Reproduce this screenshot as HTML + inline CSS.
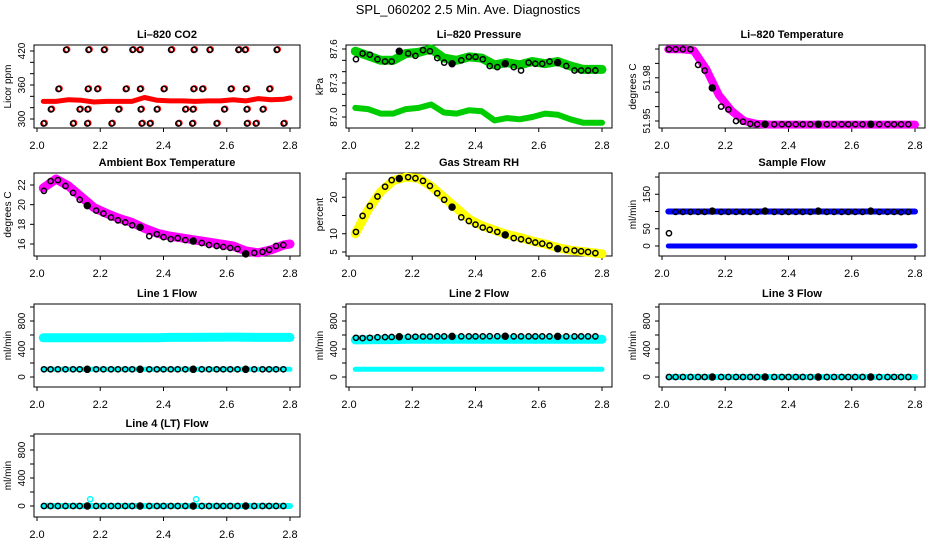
<!DOCTYPE html>
<html><head><meta charset="utf-8"><style>
html,body{margin:0;padding:0;background:#fff;}
svg{display:block;font-family:"Liberation Sans",sans-serif;}
</style></head><body>
<svg id="chart" width="936" height="540" viewBox="0 0 936 540">
<text x="468" y="14" text-anchor="middle" font-size="13">SPL_060202  2.5 Min. Ave. Diagnostics</text>
</svg>
<script>
// ---- shared data ----
const times = [2.022,2.043,2.066,2.090,2.114,2.135,2.159,2.187,2.210,2.234,2.256,2.279,2.301,2.326,2.355,2.379,2.400,2.423,2.445,2.469,2.494,2.521,2.544,2.568,2.589,2.611,2.634,2.660,2.687,2.713,2.734,2.756,2.779];
const filledIdx = [6,13,20,27];
const bandT = [2.02,2.06,2.10,2.14,2.18,2.22,2.26,2.30,2.34,2.38,2.42,2.46,2.50,2.54,2.58,2.62,2.66,2.70,2.74,2.78,2.80];
const xTicks = [2.0,2.2,2.4,2.6,2.8];
const xTickLabels = ["2.0","2.2","2.4","2.6","2.8"];
// CO2
const co2T = [2.092,2.163,2.212,2.302,2.325,2.424,2.496,2.546,2.637,2.658,2.758,
  2.068,2.161,2.191,2.281,2.326,2.401,2.495,2.523,2.613,2.661,2.735,
  2.044,2.135,2.160,2.258,2.328,2.379,2.469,2.493,2.592,2.663,2.714,
  2.021,2.114,2.159,2.236,2.331,2.357,2.447,2.491,2.568,2.664,2.692,2.780];
const co2V = [422,422,422,422,422,422,422,422,422,422,422,
  353,353,353,353,353,353,353,353,353,353,353,
  317,317,317,317,317,317,317,317,317,317,317,
  292,292,292,292,292,292,292,292,292,292,292,292];
const co2Band = [331,331,334,333,330,331,331,331,338,333,332,332,331,332,332,334,332,336,334,335,337];
// Pressure
const presUpper = [87.58,87.54,87.50,87.50,87.56,87.57,87.60,87.52,87.50,87.53,87.52,87.46,87.48,87.46,87.49,87.47,87.49,87.45,87.42,87.42,87.42];
const presLower = [87.08,87.07,87.03,87.03,87.07,87.08,87.11,87.04,87.03,87.06,87.05,86.97,86.99,86.98,87.00,87.03,87.02,86.98,86.95,86.95,86.95];
const presCirc = [87.51,87.56,87.55,87.51,87.49,87.49,87.58,87.56,87.54,87.59,87.58,87.52,87.48,87.47,87.50,87.53,87.53,87.51,87.45,87.44,87.47,87.44,87.41,87.48,87.47,87.47,87.49,87.48,87.45,87.41,87.41,87.41,87.41];
// Li-820 temperature
const tempBand = [51.9998,51.9998,51.999,51.986,51.968,51.957,51.950,51.948,51.9475,51.9475,51.9475,51.9475,51.9475,51.9475,51.9475,51.9475,51.9475,51.9475,51.9475,51.9475,51.9475];
const tempCirc = [51.9998,51.9998,51.9998,51.9998,51.989,51.985,51.973,51.960,51.958,51.950,51.9495,51.948,51.9477,51.9477,51.9477,51.9477,51.9477,51.9477,51.9477,51.9477,51.9477,51.9477,51.9477,51.9477,51.9477,51.9477,51.9477,51.9477,51.9477,51.9477,51.9477,51.9477,51.9477];
// Ambient box temperature
const boxBand = [21.7,22.6,21.9,20.8,19.7,19.1,18.6,18.2,17.6,17.1,16.8,16.6,16.4,16.2,16.0,15.8,15.3,15.1,15.4,15.9,16.0];
const boxCirc = [21.4,22.4,22.5,21.9,21.2,20.5,19.9,19.4,19.1,18.7,18.4,18.2,17.9,17.7,16.8,17.0,16.7,16.5,16.6,16.4,16.3,16.1,15.9,15.8,15.7,15.6,15.5,15.0,15.1,15.2,15.4,15.8,15.9];
// RH
const rhBand = [10,16.5,21.5,24.6,25.5,25.2,23.0,20.0,17.0,14.0,12.2,11.0,9.8,9.0,8.0,7.2,6.2,5.5,5.1,4.7,4.5];
const rhCirc = [10.5,14.9,17.6,20.2,22.9,24.7,25.1,25.5,25.2,24.5,23.1,21.1,19.3,17.3,14.5,13.5,12.5,11.7,11.1,10.5,9.7,8.8,8.5,8.1,7.6,7.3,6.8,5.9,5.6,5.4,5.2,5.0,4.7];
// Sample flow
const sampUpper = [100,100,100,100,100,100,100,100,100,100,100,100,100,100,100,100,100,100,100,100,100];
const sampLower = [0,0,0,0,0,0,0,0,0,0,0,0,0,0,0,0,0,0,0,0,0];
const sampCirc = [37,99,99,99,99,99,101,99,99,99,99,99,99,101,99,99,99,99,99,99,101,99,99,99,99,99,99,101,99,99,99,98,99];
// Line flows
const l1Upper = [560,560,562,562,562,562,562,562,562,562,565,566,566,568,568,570,568,566,566,566,566];
const l1Lower = [110,110,110,110,110,110,110,110,110,110,110,110,110,110,110,110,110,110,110,110,110];
const l1Circ = [110,110,110,110,110,110,110,110,110,110,110,110,110,110,110,110,110,110,110,110,110,110,110,110,110,110,110,110,110,110,110,110,110];
const l2Upper = [530,532,535,535,538,538,538,538,538,538,538,538,538,538,538,538,538,538,538,538,538];
const l2Lower = [110,110,110,110,110,110,110,110,110,110,110,110,110,110,110,110,110,110,110,110,110];
const l2Circ = [560,555,560,568,570,572,575,575,576,578,578,580,580,580,580,580,580,580,582,582,582,580,580,580,580,580,580,580,580,580,580,580,580];
const l3Band = [0,0,0,0,0,0,0,0,0,0,0,0,0,0,0,0,0,0,0,0,0];
const l3Circ = [0,0,0,0,0,0,0,0,0,0,0,0,0,0,0,0,0,0,0,0,0,0,0,0,0,0,0,0,0,0,0,0,0];
const l4Band = [0,0,0,0,0,0,0,0,0,0,0,0,0,0,0,0,0,0,0,0,0];
const l4Circ = [0,0,0,0,0,0,0,0,0,0,0,0,0,0,0,0,0,0,0,0,0,0,0,0,0,0,0,0,0,0,0,0,0];
const l4SpikeT = [2.165,2.500];
const l4SpikeV = [90,90];

const NS = "http://www.w3.org/2000/svg";
const svg = document.getElementById("chart");
function mk(tag, attrs, parent) {
  const e = document.createElementNS(NS, tag);
  for (const k in attrs) e.setAttribute(k, attrs[k]);
  (parent || svg).appendChild(e);
  return e;
}
const colL = [34, 346, 659];
const rowT = [45, 173, 304, 434];
const BOXW = 266, BOXH = 83;

function panel(cfg) {
  const L = colL[cfg.col], T = rowT[cfg.row], B = T + BOXH;
  const g = mk("g", {});
  
  
  const xs = v => L + 3 + (v - 2.0) / 0.8 * 253;
  const ys = v => T + cfg.y0 + (v - cfg.t0) / (cfg.t1 - cfg.t0) * (cfg.y1 - cfg.y0);
  const tt = mk("text", {x: L + BOXW / 2, y: T - 7, "text-anchor": "middle", "font-size": 11, "font-weight": "bold"}, g);
  tt.textContent = cfg.title;
  
  
  const bx = mk("rect", {x: L, y: T, width: BOXW, height: BOXH, fill: "none", stroke: "#000", "stroke-width": 1}, g);
  
  
  const xa = mk("g", {}, g);
  
  
  mk("line", {x1: xs(2.0), x2: xs(2.8), y1: B, y2: B, stroke: "#000"}, xa);
  xTicks.forEach((t, i) => {
    mk("line", {x1: xs(t), x2: xs(t), y1: B, y2: B + 4, stroke: "#000"}, xa);
    const lb = mk("text", {x: xs(t), y: B + 21, "text-anchor": "middle", "font-size": 11}, xa);
    lb.textContent = xTickLabels[i];
    
    
  });
  const ya = mk("g", {}, g);
  
  
  mk("line", {x1: L, x2: L, y1: ys(cfg.ticks[0]), y2: ys(cfg.ticks[cfg.ticks.length - 1]), stroke: "#000"}, ya);
  cfg.ticks.forEach(t => {
    mk("line", {x1: L - 4, x2: L, y1: ys(t), y2: ys(t), stroke: "#000"}, ya);
  });
  cfg.labels.forEach((lbl, i) => {
    const y = ys(cfg.labelVals[i]);
    const lb = mk("text", {x: L - 9, y: y, "text-anchor": "middle", "font-size": 10, transform: `rotate(-90 ${L - 9} ${y})`}, ya);
    lb.textContent = lbl;
    
    
  });
  const ytY = T + BOXH / 2;
  const yt = mk("text", {x: L - 23, y: ytY, "text-anchor": "middle", "font-size": 10, transform: `rotate(-90 ${L - 23} ${ytY})`}, g);
  yt.textContent = cfg.ylab;
  
  
  (cfg.bands || []).forEach(b => {
    const pts = bandT.map((t, i) => xs(t).toFixed(1) + "," + ys(b.v[i]).toFixed(1)).join(" ");
    const pl = mk("polyline", {points: pts, fill: "none", stroke: cfg.color, "stroke-width": b.w || 6, "stroke-linejoin": "round", "stroke-linecap": "round"}, g);
    
    
  });
  if (cfg.colorCirc) {
    cfg.colorCirc.t.forEach((t, i) => {
      const c = mk("circle", {cx: xs(t) + 1, cy: ys(cfg.colorCirc.v[i]) - 0.5, r: 2.6, fill: "none", stroke: cfg.color, "stroke-width": 1.5}, g);
      
      
    });
  }
  const ct = cfg.circT || times;
  ct.forEach((t, i) => {
    const filled = !cfg.circT && filledIdx.includes(i);
    const c = mk("circle", {cx: xs(t), cy: ys(cfg.circ[i]), r: filled ? 3 : 2.6, fill: filled ? "#000" : "none", stroke: "#000", "stroke-width": 1.5}, g);
    
    
  });
}

panel({name:"co2-panel", col:0,row:0,title:"Li\u2013820 CO2",ylab:"Licor ppm",t0:300,t1:420,y0:74,y1:6,
  ticks:[300,320,340,360,380,400,420],labels:["300","360","420"],labelVals:[300,360,420],color:"#ff0000",
  bands:[{v:co2Band,w:5}], circT:co2T, circ:co2V, colorCirc:{t:co2T,v:co2V}});
panel({name:"pressure-panel", col:1,row:0,title:"Li\u2013820 Pressure",ylab:"kPa",t0:87.0,t1:87.6,y0:72,y1:4,
  ticks:[87.0,87.1,87.2,87.3,87.4,87.5,87.6],labels:["87.0","87.3","87.6"],labelVals:[87.0,87.3,87.6],color:"#00cd00",
  bands:[{v:presUpper,w:9},{v:presLower,w:6}], circ:presCirc});
panel({name:"temperature-panel", col:2,row:0,title:"Li\u2013820 Temperature",ylab:"degrees C",t0:51.95,t1:52.00,y0:76,y1:4,
  ticks:[51.95,51.96,51.97,51.98,51.99,52.00],labels:["51.95","51.98"],labelVals:[51.95,51.98],color:"#ff00ff",
  bands:[{v:tempBand,w:8}], circ:tempCirc});
panel({name:"ambient-box-temperature-panel", col:0,row:1,title:"Ambient Box Temperature",ylab:"degrees C",t0:16,t1:22,y0:71,y1:12,
  ticks:[16,18,20,22],labels:["16","18","20","22"],labelVals:[16,18,20,22],color:"#ff00ff",
  bands:[{v:boxBand,w:9}], circ:boxCirc});
panel({name:"gas-stream-rh-panel", col:1,row:1,title:"Gas Stream RH",ylab:"percent",t0:5,t1:25,y0:79,y1:6,
  ticks:[5,10,15,20,25],labels:["5","10","20"],labelVals:[5,10,20],color:"#ffff00",
  bands:[{v:rhBand,w:9}], circ:rhCirc});
panel({name:"sample-flow-panel", col:2,row:1,title:"Sample Flow",ylab:"ml/min",t0:0,t1:200,y0:73,y1:4,
  ticks:[0,50,100,150,200],labels:["0","50","150"],labelVals:[0,50,150],color:"#0000ff",
  bands:[{v:sampUpper,w:6},{v:sampLower,w:5}], circ:sampCirc});
panel({name:"line1-flow-panel", col:0,row:2,title:"Line 1 Flow",ylab:"ml/min",t0:0,t1:1000,y0:73,y1:3,
  ticks:[0,200,400,600,800,1000],labels:["0","400","800"],labelVals:[0,400,800],color:"#00ffff",
  bands:[{v:l1Upper,w:9},{v:l1Lower,w:5}], circ:l1Circ});
panel({name:"line2-flow-panel", col:1,row:2,title:"Line 2 Flow",ylab:"ml/min",t0:0,t1:1000,y0:73,y1:3,
  ticks:[0,200,400,600,800,1000],labels:["0","400","800"],labelVals:[0,400,800],color:"#00ffff",
  bands:[{v:l2Upper,w:9},{v:l2Lower,w:5}], circ:l2Circ});
panel({name:"line3-flow-panel", col:2,row:2,title:"Line 3 Flow",ylab:"ml/min",t0:0,t1:1000,y0:73,y1:3,
  ticks:[0,200,400,600,800,1000],labels:["0","400","800"],labelVals:[0,400,800],color:"#00ffff",
  bands:[{v:l3Band,w:6}], circ:l3Circ});
panel({name:"line4-flow-panel", col:0,row:3,title:"Line 4 (LT) Flow",ylab:"ml/min",t0:0,t1:1000,y0:72,y1:2,
  ticks:[0,200,400,600,800,1000],labels:["0","400","800"],labelVals:[0,400,800],color:"#00ffff",
  bands:[{v:l4Band,w:6}], circ:l4Circ, colorCirc:{t:l4SpikeT,v:l4SpikeV}});
</script>
</body></html>
